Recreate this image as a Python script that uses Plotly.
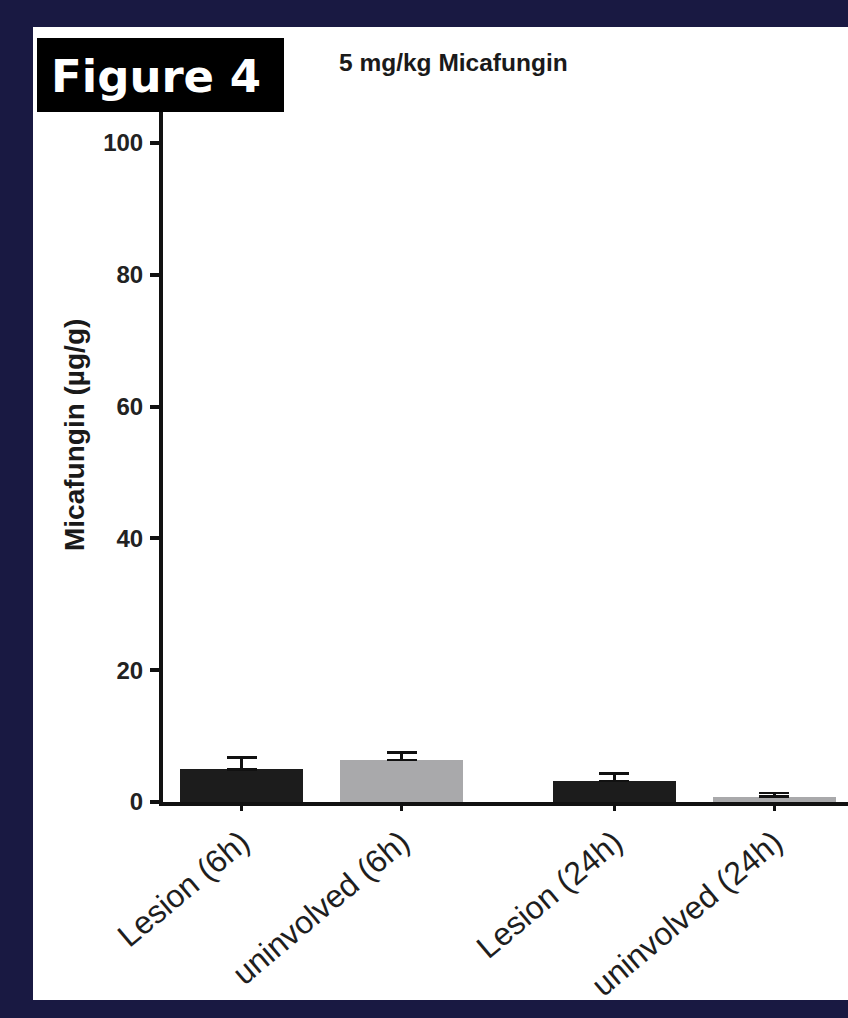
import plotly.graph_objects as go

# ---- data ----
categories = ["Lesion (6h)", "uninvolved (6h)", "Lesion (24h)", "uninvolved (24h)"]
time_group = [0, 0, 1, 1]
values = [4.96, 6.37, 3.19, 0.8]
errors = [1.76, 1.17, 1.17, 0.6]
bar_colors = ["#1c1c1c", "#a9a9ab", "#1c1c1c", "#a9a9ab"]
y_ticks = [0, 20, 40, 60, 80, 100]
title_text = "5 mg/kg Micafungin"
y_title = "Micafungin (µg/g)"
fig_label = "Figure 4"

# ---- layout geometry (screen pixels) ----
W, H = 848, 1018
L, R, T, B = 163, W, 110, 802
NAVY = "#191942"

def px_x(x):
    return (x - L) / (R - L)

def px_y(y):
    return (B - y) / (B - T)

group_gap = 0.33
xpos = [i + group_gap * g for i, g in enumerate(time_group)]
unit_px = 160.0
x0_screen = 241.5
x_range = [(L - x0_screen) / unit_px, (R - x0_screen) / unit_px]

fig = go.Figure()
fig.add_trace(go.Bar(
    x=xpos, y=values, width=0.77,
    marker=dict(color=bar_colors, line=dict(width=0)),
    error_y=dict(type="data", symmetric=False, array=errors,
                 arrayminus=[0] * len(errors), color="#111111",
                 thickness=2.5, width=15),
    showlegend=False,
))

fig.update_layout(
    width=W, height=H,
    margin=dict(l=L, r=W - R, t=T, b=H - B, autoexpand=False),
    paper_bgcolor=NAVY, plot_bgcolor="white",
    bargap=0,
    xaxis=dict(
        range=x_range, tickmode="array", tickvals=xpos, ticktext=categories,
        tickangle=-40, tickfont=dict(family="Liberation Sans, Arial", size=32, color="#1e1e1e"),
        showline=True, linecolor="#111111", linewidth=4,
        ticks="outside", ticklen=5, tickwidth=3, tickcolor="#111111",
        showgrid=False, zeroline=False, fixedrange=True,
    ),
    yaxis=dict(
        range=[0, 105], tickmode="array", tickvals=y_ticks,
        tickfont=dict(family="Liberation Sans, Arial", size=24, color="#222222", weight="bold"),
        showline=True, linecolor="#111111", linewidth=4,
        ticks="outside", ticklen=9, tickwidth=4, tickcolor="#111111",
        ticklabelstandoff=2,
        showgrid=False, zeroline=False, fixedrange=True,
    ),
    shapes=[
        dict(type="rect", xref="paper", yref="paper", layer="below",
             x0=px_x(33), x1=px_x(W + 5), y0=px_y(1000), y1=px_y(27),
             fillcolor="white", line=dict(width=0)),
        dict(type="rect", xref="paper", yref="paper", layer="above",
             x0=px_x(37), x1=px_x(284), y0=px_y(112), y1=px_y(38),
             fillcolor="black", line=dict(width=0)),
    ],
    annotations=[
        dict(text=fig_label, xref="paper", yref="paper", x=px_x(156), y=px_y(76),
             xanchor="center", yanchor="middle", showarrow=False,
             font=dict(family="DejaVu Sans", size=45, color="white", weight="bold")),
        dict(text=title_text, xref="paper", yref="paper", x=px_x(453), y=px_y(63),
             xanchor="center", yanchor="middle", showarrow=False,
             font=dict(family="Liberation Sans, Arial", size=24.5, color="#1a1a1a", weight="bold")),
        dict(text=y_title, xref="paper", yref="paper", x=px_x(74), y=px_y(435),
             xanchor="center", yanchor="middle", showarrow=False, textangle=-90,
             font=dict(family="Liberation Sans, Arial", size=28, color="#1a1a1a", weight="bold")),
    ],
)

fig.write_html(
    "out.html",
    config={"displayModeBar": False, "staticPlot": True},
    post_script="document.body.style.margin='0';document.body.style.background='%s';" % NAVY,
)
